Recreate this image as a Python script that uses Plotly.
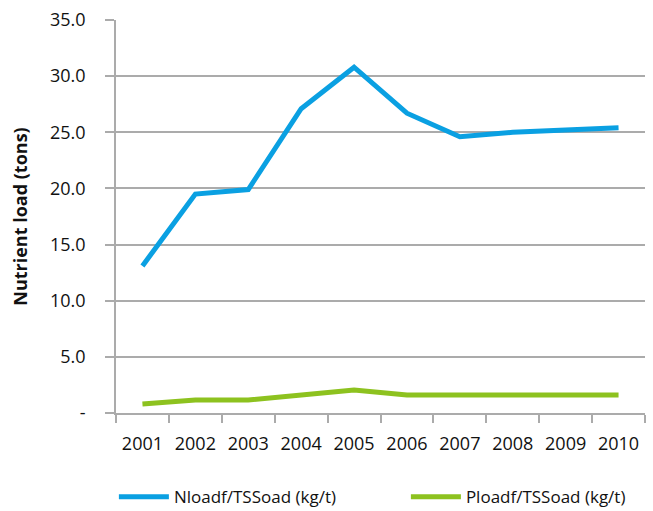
import plotly.graph_objects as go

years = ["2001", "2002", "2003", "2004", "2005", "2006", "2007", "2008", "2009", "2010"]
n_load = [13.1, 19.5, 19.9, 27.1, 30.8, 26.7, 24.6, 25.0, 25.2, 25.4]
p_load = [0.8, 1.15, 1.15, 1.6, 2.05, 1.6, 1.6, 1.6, 1.6, 1.6]
y_ticks = [0, 5, 10, 15, 20, 25, 30, 35]
y_tick_labels = ["-", "5.0", "10.0", "15.0", "20.0", "25.0", "30.0", "35.0"]

FONT = "Open Sans"
GRID = "#ababab"

fig = go.Figure()
fig.add_trace(go.Scatter(x=years, y=n_load, mode="lines", name="Nloadf/TSSoad (kg/t)",
                         line=dict(color="#0aa0e2", width=5), legend="legend"))
fig.add_trace(go.Scatter(x=years, y=p_load, mode="lines", name="Ploadf/TSSoad (kg/t)",
                         line=dict(color="#8dc21f", width=5), legend="legend2"))

leg_common = dict(orientation="h", xanchor="left", y=-0.214, yanchor="middle",
                  font=dict(family=FONT, size=17, color="#111111"), itemwidth=50,
                  bgcolor="rgba(0,0,0,0)")

fig.update_layout(
    width=653, height=560,
    margin=dict(l=116, r=8, t=20, b=147),
    plot_bgcolor="white", paper_bgcolor="white",
    font=dict(family=FONT, size=18, color="#111111"),
    showlegend=True,
    legend=dict(x=-0.004, **leg_common),
    legend2=dict(x=0.548, **leg_common),
    xaxis=dict(type="category", showgrid=False, showline=True, linecolor=GRID, linewidth=1.5,
               ticks="outside", tickson="boundaries", ticklen=8, tickcolor=GRID, tickwidth=1.5,
               ticklabelstandoff=14, tickangle=0, range=[-0.5, 9.5], automargin=False),
    yaxis=dict(range=[0, 35], tickvals=y_ticks, ticktext=y_tick_labels, showgrid=True,
               gridcolor=GRID, gridwidth=1.5, showline=True, linecolor=GRID, linewidth=1.5,
               ticks="outside", ticklen=9, tickcolor=GRID, tickwidth=1.5, zeroline=False,
               ticklabelstandoff=16, automargin=False,
               title=dict(text="<b>Nutrient load (tons)</b>", font=dict(family=FONT, size=18),
                          standoff=18)),
)

fig.write_html("out.html", config={"displayModeBar": False},
               post_script="document.body.style.margin='0';document.body.style.overflow='hidden';"
                           "document.documentElement.style.overflow='hidden';")
